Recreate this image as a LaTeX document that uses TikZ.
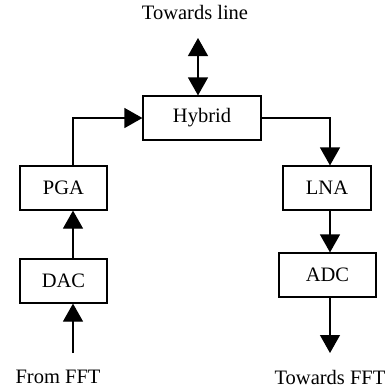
\documentclass[tikz,border=0pt]{standalone}
\usepackage{fontspec}
\setmainfont{Liberation Serif}
\usetikzlibrary{arrows.meta}
\begin{document}
\begin{tikzpicture}[x=1pt,y=-1pt,
  blk/.style={draw,line width=1.2pt,minimum height=44pt,inner sep=0pt,font=\fontsize{20.5}{24}\selectfont},
  lbl/.style={inner sep=0pt,font=\fontsize{20.5}{24}\selectfont},
  conn/.style={line width=1.2pt,-{Triangle[width=20pt,length=18pt]}},
  >={Triangle[width=20pt,length=18pt]}]
\useasboundingbox (0,0) rectangle (387,392);
\node[blk,minimum width=118pt] (hyb) at (202,118) {Hybrid};
\node[blk,minimum width=87pt] (pga) at (63.5,188) {PGA};
\node[blk,minimum width=88pt] (lna) at (327,188) {LNA};
\node[blk,minimum width=87pt] (dac) at (63.5,281) {DAC};
\node[blk,minimum width=97pt] (adc) at (327.5,275) {ADC};
\node[lbl] (tl) at (195,12) {Towards line};
\node[lbl] (ff) at (58,377) {From FFT};
\node[lbl] (tf) at (330,377) {Towards FFT};
\coordinate (top) at (198,38);
\coordinate (fin) at (73,353);
\coordinate (fout) at (330,353);
\draw[conn,<->] (top) -- (top |- hyb.north);
\draw[conn] (pga.north -| fin) |- (hyb.west);
\draw[conn] (hyb.east) -| (lna.north -| fout);
\draw[conn] (fin) -- (fin |- dac.south);
\draw[conn] (dac.north -| fin) -- (pga.south -| fin);
\draw[conn] (lna.south -| fout) -- (adc.north -| fout);
\draw[conn] (adc.south -| fout) -- (fout);
\end{tikzpicture}
\end{document}
